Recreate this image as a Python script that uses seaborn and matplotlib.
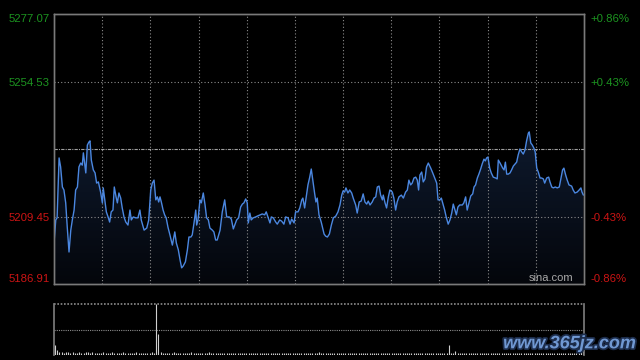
import numpy as np
import pandas as pd
import seaborn as sns
import matplotlib.pyplot as plt
import matplotlib.patheffects as pe
from matplotlib.colors import LinearSegmentedColormap

# 分时数据 (minute index, price)
minutes = [
    0, 0.8, 1.4, 2.3, 3.0, 3.8, 4.5, 5.3, 6.0, 6.8, 7.6, 8.3, 9.1, 9.8, 10.6, 11.3, 12.1, 12.8, 13.3, 14.4,
    15.1, 15.8, 16.3, 16.9, 17.8, 18.6, 19.3, 20.1, 21.1, 21.9, 22.3, 23.0, 23.7, 24.5, 25.2, 25.9, 26.7, 27.3, 28.1, 28.7,
    29.4, 30.2, 30.9, 31.7, 32.5, 33.5, 34.4, 35.0, 35.9, 37.0, 38.0, 38.9, 39.5, 40.8,
    42.0, 42.9, 43.8, 44.5, 45.3, 46.1, 46.8, 47.4, 48.0, 48.6, 49.4, 50.1, 50.8, 51.6, 52.5, 53.6, 54.7, 55.4, 56.3, 57.1,
    57.8, 58.5, 59.5, 60.4, 61.1, 62.0, 62.6, 63.4, 64.2, 64.6, 65.2, 66.1, 66.7, 67.6, 68.4, 69.1, 69.9, 70.6, 71.7, 72.4,
    73.2, 73.9, 75.2, 76.2, 77.3, 78.2, 79.4, 80.3, 81.2,
    82.7, 83.6, 84.5, 85.3, 86.0, 86.8, 87.5, 88.0, 88.7, 89.3, 90.2, 91.3, 92.1, 93.3, 94.3, 95.4, 96.1, 97.0, 97.8, 98.4,
    99.3, 100.4, 101.1, 102.2, 103.1, 104.1, 104.9, 106.0, 106.9, 107.6, 108.7, 109.4, 110.5, 111.3, 112.2, 112.7, 113.5,
    114.2, 115.0, 115.8, 116.5, 117.3, 118.0, 118.6, 119.2, 120.0, 121.0, 121.9,
    122.3, 123.0, 123.8, 124.7, 125.6, 126.5, 127.6, 128.6, 129.5, 130.3, 130.9, 131.6, 132.2, 133.1, 133.9, 134.8, 135.5,
    136.6, 137.3, 138.2, 139.1, 140.0, 140.8, 141.6, 142.3, 143.1, 144.1, 144.9, 145.7, 146.4, 147.2, 147.9, 148.7, 149.1,
    149.9, 150.6, 151.4, 152.1, 153.2, 153.9, 154.7, 155.4, 156.2, 157.3, 158.2, 159.2, 160.0, 160.7, 161.5, 162.2, 163.0,
    163.8, 164.5, 165.1, 165.7, 166.5, 167.2, 168.0, 168.7, 169.5, 170.6, 171.5, 172.4, 173.3, 173.9, 174.8, 175.4, 176.0,
    176.9, 177.6, 178.5, 179.3, 180.1, 180.8, 181.6, 182.2, 182.9, 183.7, 184.9, 185.6, 186.4, 187.1, 187.9, 188.7, 189.6,
    190.2, 190.9, 191.7, 192.4, 193.2, 193.9, 194.7, 195.3, 195.9, 196.5, 197.3, 198.0, 198.9, 200.0, 200.7, 201.2, 202.0,
    203.2, 203.8, 204.4, 205.0, 205.7, 206.5, 207.2, 208.0, 208.8, 209.5, 210.2, 211.0, 211.8, 212.5, 213.3, 214.0, 214.8,
    215.2, 215.9, 216.6, 217.3, 217.9, 218.6, 219.3, 220.1, 220.8, 221.6, 222.2, 223.1, 224.0, 224.6, 225.4, 226.1, 227.0,
    227.9, 228.8, 229.6, 230.3, 230.9, 231.7, 232.4, 233.2, 234.4, 235.1, 235.9, 236.9, 237.8, 238.6, 239.1, 239.7,
]
prices = [
    5200.6, 5208.3, 5209.0, 5229.0, 5226.0, 5219.3, 5218.3, 5214.0, 5205.9, 5197.6, 5204.9, 5208.3, 5211.6, 5218.3, 5219.3, 5226.0, 5227.3, 5226.6, 5230.7, 5224.0,
    5233.3, 5234.3, 5234.7, 5228.3, 5225.0, 5224.0, 5220.6, 5221.0, 5217.6, 5214.0, 5219.0, 5215.0, 5211.0, 5209.3, 5207.6, 5211.0, 5211.6, 5219.3, 5216.0, 5214.0,
    5217.3, 5215.6, 5212.3, 5209.3, 5207.6, 5206.6, 5211.6, 5208.3, 5209.3, 5209.0, 5209.0, 5211.6, 5208.3, 5204.9,
    5205.6, 5208.3, 5218.3, 5220.6, 5221.6, 5215.0, 5216.0, 5214.3, 5216.0, 5214.3, 5211.6, 5210.0, 5209.0, 5205.9, 5203.3, 5199.9, 5204.3, 5200.6, 5198.3, 5194.9,
    5192.3, 5192.9, 5194.3, 5198.3, 5202.6, 5202.6, 5203.3, 5207.3, 5211.6, 5206.6, 5208.3, 5215.0, 5214.0, 5217.3, 5213.3, 5209.0, 5208.3, 5205.6, 5204.9, 5204.3,
    5201.6, 5201.6, 5204.9, 5211.0, 5215.0, 5209.3, 5209.3, 5208.6, 5205.3,
    5208.3, 5209.0, 5212.6, 5213.6, 5214.0, 5215.3, 5214.0, 5207.3, 5210.6, 5208.3, 5209.0, 5209.3, 5209.6, 5210.0, 5210.3, 5210.0, 5211.0, 5209.0, 5207.3, 5209.3,
    5209.0, 5207.6, 5206.9, 5208.3, 5207.9, 5206.9, 5209.3, 5209.0, 5206.9, 5208.6, 5207.3, 5211.0, 5211.0, 5212.3, 5215.0, 5215.6, 5212.3,
    5216.0, 5220.0, 5222.6, 5225.3, 5221.0, 5217.3, 5214.3, 5215.6, 5210.0, 5207.6, 5204.9,
    5203.6, 5202.9, 5202.6, 5203.6, 5206.6, 5209.0, 5209.6, 5211.0, 5213.3, 5216.6, 5218.0, 5217.6, 5219.0, 5217.3, 5218.3, 5217.3, 5215.6,
    5213.3, 5210.6, 5214.3, 5214.6, 5217.0, 5214.3, 5213.6, 5214.6, 5213.3, 5214.3, 5215.6, 5216.0, 5219.3, 5219.6, 5216.6, 5215.0, 5216.6,
    5214.0, 5212.3, 5216.0, 5218.3, 5217.6, 5215.6, 5211.6, 5214.3, 5216.0, 5216.6, 5215.6, 5217.6, 5218.3, 5221.6, 5220.0, 5220.6, 5222.3,
    5222.6, 5221.6, 5218.3, 5223.3, 5224.3, 5221.0, 5222.0, 5226.0, 5227.3, 5225.6, 5224.0, 5222.3, 5220.6, 5215.0, 5215.0, 5215.6, 5214.0,
    5211.6, 5209.3, 5206.9, 5208.3, 5210.6, 5213.6, 5211.6, 5210.0, 5212.6, 5213.3, 5213.3, 5214.0, 5216.0, 5211.6, 5214.0, 5216.3, 5217.0,
    5219.3, 5220.0, 5222.3, 5223.6, 5225.3, 5227.0, 5228.6, 5228.0, 5229.0, 5229.3, 5225.6, 5224.0, 5222.6, 5222.3, 5222.0, 5228.3, 5227.3,
    5225.6, 5225.0, 5227.6, 5223.6, 5223.6, 5224.0, 5225.0, 5226.3, 5227.0, 5227.6, 5230.0, 5232.0, 5231.0, 5230.3, 5231.7, 5234.7, 5237.3,
    5237.7, 5234.0, 5233.3, 5232.3, 5231.0, 5225.6, 5224.3, 5222.3, 5222.3, 5222.0, 5220.6, 5222.3, 5222.6, 5221.0, 5219.3, 5219.0, 5219.3,
    5219.0, 5219.3, 5222.3, 5225.0, 5225.6, 5223.3, 5221.6, 5220.0, 5219.6, 5218.3, 5217.3, 5217.6, 5218.3, 5219.0, 5217.6, 5216.6,
]

# volume per minute (relative units, top of panel = largest bar)
volume = [
    20, 9, 6, 5, 4, 5, 6, 4, 5, 3, 4, 5, 4, 3, 5, 6, 4, 5, 4, 3,
    4, 3, 5, 4, 3, 4, 5, 3, 4, 3, 4, 5, 4, 3, 4, 3, 4, 5, 3, 4,
    3, 4, 3, 4, 5, 4, 100, 41, 6, 4, 3, 4, 3, 4, 5, 3, 4, 3, 4, 3,
    4, 3, 5, 4, 3, 4, 3, 4, 3, 4, 5, 3, 4, 3, 4, 3, 4, 3, 4, 3,
    3, 4, 3, 4, 3, 4, 3, 4, 3, 3, 4, 3, 4, 3, 3, 4, 3, 4, 3, 3,
    4, 3, 3, 4, 3, 3, 4, 3, 3, 4, 3, 4, 3, 3, 4, 3, 3, 4, 3, 4,
    5, 3, 4, 3, 3, 4, 3, 4, 3, 3, 4, 3, 3, 4, 3, 4, 3, 3, 4, 3,
    3, 4, 3, 3, 4, 3, 4, 3, 3, 4, 3, 3, 4, 3, 3, 4, 3, 3, 4, 3,
    4, 3, 3, 4, 3, 4, 3, 3, 4, 3, 3, 4, 3, 4, 3, 3, 4, 3, 4, 20,
    4, 3, 8, 4, 3, 3, 4, 3, 3, 4, 3, 4, 3, 3, 4, 3, 3, 4, 3, 4,
    3, 3, 4, 3, 4, 3, 3, 4, 3, 4, 3, 3, 4, 3, 4, 3, 4, 3, 3, 4,
    3, 4, 3, 4, 3, 3, 4, 3, 4, 3, 4, 3, 3, 4, 3, 4, 3, 4, 5, 6,
    8,
]

prev_close = 5231.99
price_ticks = [5186.91, 5209.45, 5254.53, 5277.07]

df = pd.DataFrame({'minute': minutes, 'price': prices})
vol_df = pd.DataFrame({'minute': np.arange(len(volume)), 'vol': volume})

sns.set_theme(style='dark')
plt.rcParams['font.family'] = ['Liberation Sans', 'DejaVu Sans']

GREEN = '#1c9420'
RED = '#cc1414'
GRID = '#8c8c8c'
SPINE = '#7a7a7a'

fig = plt.figure(figsize=(6.4, 3.6), dpi=100, facecolor='black')
ax = fig.add_axes([54 / 640, 1 - 284 / 360, 530 / 640, 270 / 360], facecolor='black')
vax = fig.add_axes([54 / 640, 1 - 355 / 360, 530 / 640, 51 / 360], facecolor='black')

ymin, ymax = price_ticks[0], price_ticks[-1]
xmax = 240
ax.set_xlim(0, xmax)
ax.set_ylim(ymin, ymax)

# gradient fill under the price line
poly = ax.fill_between(df['minute'], df['price'], ymin, color='none', lw=0)
cmap = LinearSegmentedColormap.from_list('fill', ['#04060b', '#0e1a2e'])
grad = np.linspace(0, 1, 256).reshape(-1, 1)
im = ax.imshow(grad, extent=[0, xmax, ymin, df['price'].max()], origin='lower',
               aspect='auto', cmap=cmap, zorder=1)
im.set_clip_path(poly.get_paths()[0], transform=ax.transData)

sns.lineplot(data=df, x='minute', y='price', ax=ax, color='#4b87e0',
             linewidth=1.0, estimator=None, sort=False, zorder=3)

# grid
for i in range(1, 11):
    ax.axvline(i * xmax / 11, color=GRID, lw=0.8, ls=(0, (1, 2)), zorder=2)
for t in price_ticks[1:-1]:
    ax.axhline(t, color=GRID, lw=0.8, ls=(0, (1, 2)), zorder=2)
ax.axhline(prev_close, color='#a0a0a0', lw=0.8, ls=(0, (3, 1, 1, 1)), zorder=2)

ax.set_xticks([])
ax.set_yticks(price_ticks)
ax.set_yticklabels([f'{t:.2f}' for t in price_ticks])
ax.tick_params(axis='y', length=0, pad=3, labelsize=8.2)
for lab, t in zip(ax.get_yticklabels(), price_ticks):
    lab.set_color(GREEN if t > prev_close else RED)
ax.get_yticklabels()[0].set_va('bottom')
ax.get_yticklabels()[-1].set_va('top')
ax.set_xlabel('')
ax.set_ylabel('')

rax = ax.twinx()
rax.set_ylim(ymin, ymax)
rax.set_yticks(price_ticks)
rax.set_yticklabels([f'{(t - prev_close) / prev_close * 100:+.2f}%' for t in price_ticks])
rax.tick_params(axis='y', length=0, pad=5, labelsize=8.2)
for lab, t in zip(rax.get_yticklabels(), price_ticks):
    lab.set_color(GREEN if t > prev_close else RED)
rax.get_yticklabels()[0].set_va('bottom')
rax.get_yticklabels()[-1].set_va('top')

for a in (ax, rax):
    for s in a.spines.values():
        s.set_color(SPINE)
        s.set_linewidth(1.0)
        s.set_visible(True)

ax.text(0.979, 0.004, 'sina.com', transform=ax.transAxes, ha='right', va='bottom',
        color='#a8a8a8', fontsize=8, zorder=4)

# volume panel
vmax = vol_df['vol'].max()
vax.set_xlim(-0.5, xmax + 0.5)
vax.set_ylim(0, vmax)
vax.vlines(vol_df['minute'], 0, vol_df['vol'], color='#cfcfcf', lw=0.8)
vax.axhline(vmax / 2, color=GRID, lw=0.8, ls=(0, (1, 1)))
vax.axhline(vmax, color=GRID, lw=1.2, ls=(0, (1, 1)), clip_on=False)
vax.set_xticks([])
vax.set_yticks([])
for side, s in vax.spines.items():
    s.set_color(SPINE)
    s.set_visible(side in ('left', 'right'))

fig.text(0.993, 0.045, 'www.365jz.com', ha='right', va='center', color='#7098d2',
         fontsize=13, fontweight='bold', style='italic', family='Liberation Sans',
         path_effects=[pe.withStroke(linewidth=2.5, foreground='#1c2c4a')])

fig.savefig('out.png', dpi=100, facecolor='black')
